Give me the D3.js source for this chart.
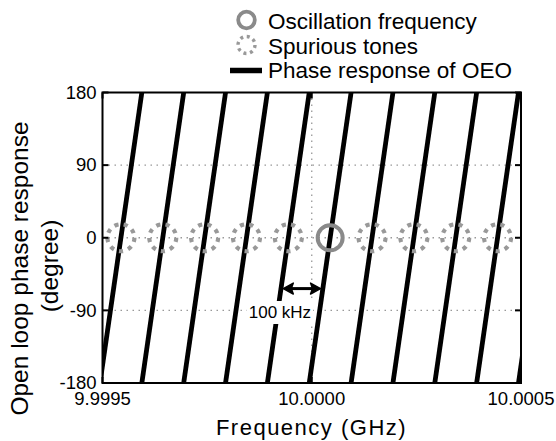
<!DOCTYPE html>
<html>
<head>
<meta charset="utf-8">
<script src="https://cdn.jsdelivr.net/npm/d3@7"></script>
<style>
  html, body { margin: 0; padding: 0; background: #fff; }
  svg { display: block; font-family: Arial, "Liberation Sans", sans-serif; }
</style>
</head>
<body>
<svg id="chart" width="556" height="441"></svg>
<script>
// ---- data ----
const xTicks = [9.9995, 10.0000, 10.0005];
const xTickLabels = ["9.9995", "10.0000", "10.0005"];
const yTicks = [-180, -90, 0, 90, 180];
const yTickLabels = ["-180", "-90", "0", "90", "180"];
const yGrid = [-90, 0, 90];
const xGrid = [10.0000];

// each phase-response segment rises from -180 to +180 degrees
const lineStartGHz = [9.999494, 9.999594, 9.999694, 9.999794, 9.999894, 9.999994, 10.000094, 10.000194, 10.000294, 10.000394, 10.000494];
const lineEndGHz   = [9.999594, 9.999694, 9.999794, 9.999894, 9.999994, 10.000094, 10.000194, 10.000294, 10.000394, 10.000494, 10.000594];
const linePhaseStart = -180;
const linePhaseEnd = 180;

const oscFreqGHz = [10.000044];
const spurFreqGHz = [9.999544, 9.999644, 9.999744, 9.999844, 9.999944, 10.000144, 10.000244, 10.000344, 10.000444];
const tonePhase = 0;

const arrowFreqGHz = [9.999932, 10.000021];
const arrowPhase = -63;
const arrowLabel = "100 kHz";
const arrowLabelFreq = 9.999924;

const legendItems = ["Oscillation frequency", "Spurious tones", "Phase response of OEO"];

// ---- layout ----
const svg = d3.select("#chart");
const L = 102.5, R = 521, T = 92.5, B = 383;
const x = d3.scaleLinear().domain([9.9995, 10.0005]).range([L, R]);
const y = d3.scaleLinear().domain([-180, 180]).range([B, T]);

svg.append("defs").append("clipPath").attr("id", "plotClip")
  .append("rect").attr("x", L).attr("y", T).attr("width", R - L).attr("height", B - T);

// grid
const grid = svg.append("g");
grid.selectAll("line.hg").data(yGrid).join("line")
  .attr("x1", L).attr("x2", R).attr("y1", d => y(d)).attr("y2", d => y(d))
  .attr("stroke", "#999").attr("stroke-width", 1.3).attr("stroke-dasharray", "1.5,4.5");
grid.selectAll("line.vg").data(xGrid).join("line")
  .attr("x1", d => x(d)).attr("x2", d => x(d)).attr("y1", T).attr("y2", B)
  .attr("stroke", "#999").attr("stroke-width", 1.3).attr("stroke-dasharray", "1.5,4.5");

// phase lines
const segs = lineStartGHz.map((f, i) => [[f, linePhaseStart], [lineEndGHz[i], linePhaseEnd]]);
const lineGen = d3.line().x(d => x(d[0])).y(d => y(d[1]));
svg.append("g").attr("clip-path", "url(#plotClip)")
  .selectAll("path").data(segs).join("path")
  .attr("d", lineGen).attr("fill", "none")
  .attr("stroke", "#000").attr("stroke-width", 4.8);

// tones
const tones = svg.append("g").attr("clip-path", "url(#plotClip)");
const spurR = 13.5;
const circ = 2 * Math.PI * spurR;
tones.selectAll("circle.spur").data(spurFreqGHz).join("circle")
  .attr("cx", d => x(d)).attr("cy", y(tonePhase)).attr("r", spurR)
  .attr("fill", "none").attr("stroke", "#999").attr("stroke-width", 4.2)
  .attr("stroke-dasharray", `4.2,${circ / 9 - 4.2}`);
tones.selectAll("circle.osc").data(oscFreqGHz).join("circle")
  .attr("cx", d => x(d)).attr("cy", y(tonePhase)).attr("r", 12.5)
  .attr("fill", "none").attr("stroke", "#8a8a8a").attr("stroke-width", 4);

// frame
svg.append("rect").attr("x", L).attr("y", T).attr("width", R - L).attr("height", B - T)
  .attr("fill", "none").attr("stroke", "#000").attr("stroke-width", 2);

// ticks (inside)
const tk = svg.append("g").attr("stroke", "#000").attr("stroke-width", 2);
tk.selectAll("line.yl").data(yTicks).join("line")
  .attr("x1", L).attr("x2", L + 6).attr("y1", d => y(d)).attr("y2", d => y(d));
tk.selectAll("line.yr").data(yTicks).join("line")
  .attr("x1", R).attr("x2", R - 6).attr("y1", d => y(d)).attr("y2", d => y(d));
tk.selectAll("line.xb").data(xTicks).join("line")
  .attr("x1", d => x(d)).attr("x2", d => x(d)).attr("y1", B).attr("y2", B - 6);
tk.selectAll("line.xt").data(xTicks).join("line")
  .attr("x1", d => x(d)).attr("x2", d => x(d)).attr("y1", T).attr("y2", T + 6);

// tick labels
svg.append("g").selectAll("text").data(yTicks).join("text")
  .attr("x", 96.5).attr("y", d => y(d)).attr("dy", "0.34em")
  .attr("text-anchor", "end").attr("font-size", 18.5)
  .text((d, i) => yTickLabels[i]);
svg.append("g").selectAll("text").data(xTicks).join("text")
  .attr("x", d => x(d)).attr("y", 405)
  .attr("text-anchor", "middle").attr("font-size", 18.5)
  .text((d, i) => xTickLabels[i]);

// axis titles
svg.append("text").attr("x", 311.5).attr("y", 435).attr("text-anchor", "middle")
  .attr("font-size", 22).attr("letter-spacing", 1.5).text("Frequency (GHz)");
svg.append("text").attr("transform", "translate(27.5,268.5) rotate(-90)")
  .attr("text-anchor", "middle").attr("font-size", 24.5).text("Open loop phase response");
svg.append("text").attr("transform", "translate(57.5,266) rotate(-90)")
  .attr("text-anchor", "middle").attr("font-size", 24.5).text("(degree)");

// annotation
const ann = svg.append("g");
const lbl = ann.append("text").attr("x", x(arrowLabelFreq)).attr("y", 318)
  .attr("text-anchor", "middle").attr("font-size", 17).text(arrowLabel);
const bb = lbl.node().getBBox();
ann.insert("rect", "text").attr("x", bb.x - 2).attr("y", bb.y - 2)
  .attr("width", bb.width + 4).attr("height", bb.height + 4).attr("fill", "#fff");
const ay = y(arrowPhase);
const ax1 = x(arrowFreqGHz[0]), ax2 = x(arrowFreqGHz[1]);
ann.append("line").attr("x1", ax1 + 6).attr("x2", ax2 - 6).attr("y1", ay).attr("y2", ay)
  .attr("stroke", "#000").attr("stroke-width", 3);
ann.append("path").attr("d", `M${ax1},${ay} L${ax1 + 10},${ay - 5.5} L${ax1 + 8},${ay} L${ax1 + 10},${ay + 5.5} Z`)
  .attr("fill", "#000").attr("stroke", "#000").attr("stroke-width", 1.5).attr("stroke-linejoin", "round");
ann.append("path").attr("d", `M${ax2},${ay} L${ax2 - 10},${ay - 5.5} L${ax2 - 8},${ay} L${ax2 - 10},${ay + 5.5} Z`)
  .attr("fill", "#000").attr("stroke", "#000").attr("stroke-width", 1.5).attr("stroke-linejoin", "round");

// legend
const lg = svg.append("g");
const lgX = 268, lgBase = [29, 53.5, 78];
lg.selectAll("text").data(legendItems).join("text")
  .attr("x", lgX).attr("y", (d, i) => lgBase[i]).attr("font-size", 22.5).text(d => d);
lg.append("circle").attr("cx", 246.5).attr("cy", 20).attr("r", 8.3)
  .attr("fill", "none").attr("stroke", "#8a8a8a").attr("stroke-width", 3.8);
const lc = 2 * Math.PI * 8.5;
lg.append("circle").attr("cx", 246.5).attr("cy", 45).attr("r", 8.5)
  .attr("fill", "none").attr("stroke", "#999").attr("stroke-width", 3.4)
  .attr("stroke-dasharray", `3,${lc / 8 - 3}`);
lg.append("line").attr("x1", 230).attr("x2", 262).attr("y1", 70.5).attr("y2", 70.5)
  .attr("stroke", "#000").attr("stroke-width", 5.5);
</script>
</body>
</html>
